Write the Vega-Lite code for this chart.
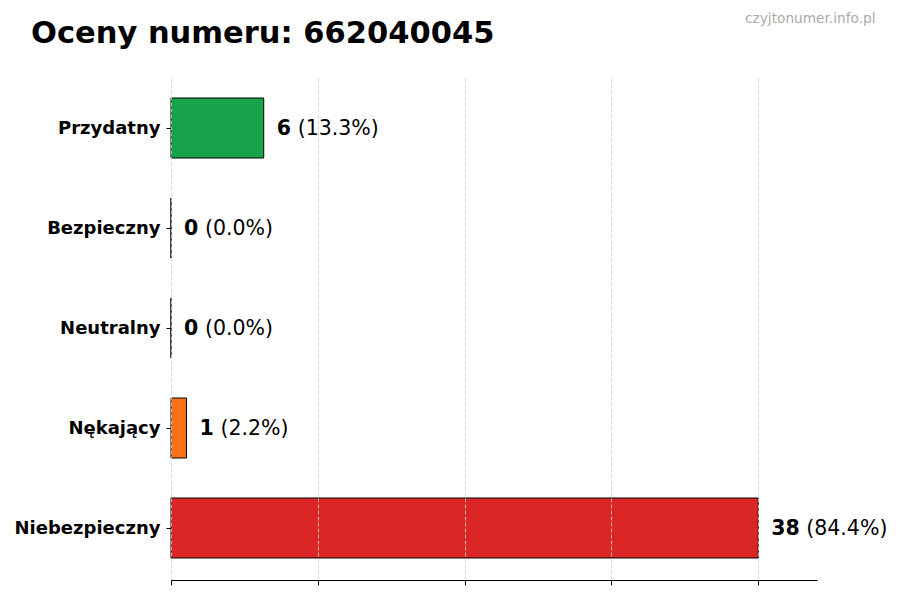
{
  "$schema": "https://vega.github.io/schema/vega-lite/v6.json",
  "description": "Horizontal bar chart of phone number ratings",
  "width": 646,
  "height": 504,
  "autosize": {"type": "none"},
  "padding": {"left": 171, "top": 76, "right": 83, "bottom": 20},
  "background": "white",
  "config": {
    "view": {"stroke": null},
    "font": "DejaVu Sans"
  },
  "title": {
    "text": "Oceny numeru: 662040045",
    "anchor": "start",
    "frame": "group",
    "dx": -140,
    "offset": -62,
    "baseline": "alphabetic",
    "font": "DejaVu Sans",
    "fontSize": 30.5,
    "fontWeight": "bold",
    "color": "black"
  },
  "data": {
    "values": [
      {"rating": "Przydatny", "count": 6, "pct": "(13.3%)"},
      {"rating": "Bezpieczny", "count": 0, "pct": "(0.0%)"},
      {"rating": "Neutralny", "count": 0, "pct": "(0.0%)"},
      {"rating": "Nękający", "count": 1, "pct": "(2.2%)"},
      {"rating": "Niebezpieczny", "count": 38, "pct": "(84.4%)"}
    ]
  },
  "encoding": {
    "y": {
      "field": "rating",
      "type": "nominal",
      "sort": null,
      "scale": {"paddingInner": 0.4, "paddingOuter": 0.22},
      "axis": {
        "title": null,
        "domain": false,
        "grid": false,
        "ticks": true,
        "tickColor": "black",
        "tickSize": 5,
        "labelFont": "DejaVu Sans",
        "labelFontSize": 18,
        "labelFontWeight": "bold",
        "labelColor": "black",
        "labelPadding": 6,
        "labelOffset": 1
      }
    }
  },
  "layer": [
    {
      "description": "Bars",
      "mark": {"type": "bar", "stroke": "black", "strokeWidth": 1},
      "encoding": {
        "x": {
          "field": "count",
          "type": "quantitative",
          "scale": {"domain": [0, 41.8], "nice": false},
          "axis": {
            "title": null,
            "labels": false,
            "values": [0, 9.5, 19, 28.5, 38],
            "domain": true,
            "domainColor": "black",
            "domainWidth": 1,
            "ticks": true,
            "tickColor": "black",
            "tickSize": 5,
            "grid": true,
            "gridColor": "#d0d0d0",
            "gridDash": [4, 2],
            "gridWidth": 0.8,
            "zindex": 1
          }
        },
        "color": {
          "field": "rating",
          "type": "nominal",
          "scale": {
            "domain": ["Przydatny", "Bezpieczny", "Neutralny", "Nękający", "Niebezpieczny"],
            "range": ["#16a34a", "#2563eb", "#6b7280", "#f97316", "#dc2626"]
          },
          "legend": null
        }
      }
    },
    {
      "description": "Count labels plus site name as top axis title",
      "mark": {"type": "text", "align": "left", "baseline": "middle", "dx": 13, "dy": 1, "fontSize": 20.5, "fontWeight": "bold", "color": "black"},
      "encoding": {
        "x": {
          "field": "count",
          "type": "quantitative",
          "axis": {
            "orient": "top",
            "title": "czyjtonumer.info.pl",
            "titleFont": "DejaVu Sans",
            "titleFontSize": 13.7,
            "titleFontWeight": "normal",
            "titleColor": "#aaaaaa",
            "titleAlign": "right",
            "titleAnchor": "start",
            "titleBaseline": "alphabetic",
            "titleX": 704,
            "titleY": -54,
            "labels": false,
            "ticks": false,
            "domain": false,
            "grid": false
          }
        },
        "text": {"field": "count", "type": "quantitative"}
      }
    },
    {
      "description": "Percent labels, one digit counts",
      "transform": [{"filter": "datum.count < 10"}],
      "mark": {"type": "text", "align": "left", "baseline": "middle", "dx": 34, "dy": 1, "fontSize": 20.5, "color": "black"},
      "encoding": {
        "x": {"field": "count", "type": "quantitative", "axis": null},
        "text": {"field": "pct"}
      }
    },
    {
      "description": "Percent labels, two digit counts",
      "transform": [{"filter": "datum.count >= 10"}],
      "mark": {"type": "text", "align": "left", "baseline": "middle", "dx": 48, "dy": 1, "fontSize": 20.5, "color": "black"},
      "encoding": {
        "x": {"field": "count", "type": "quantitative", "axis": null},
        "text": {"field": "pct"}
      }
    }
  ],
  "resolve": {"axis": {"x": "independent"}}
}
